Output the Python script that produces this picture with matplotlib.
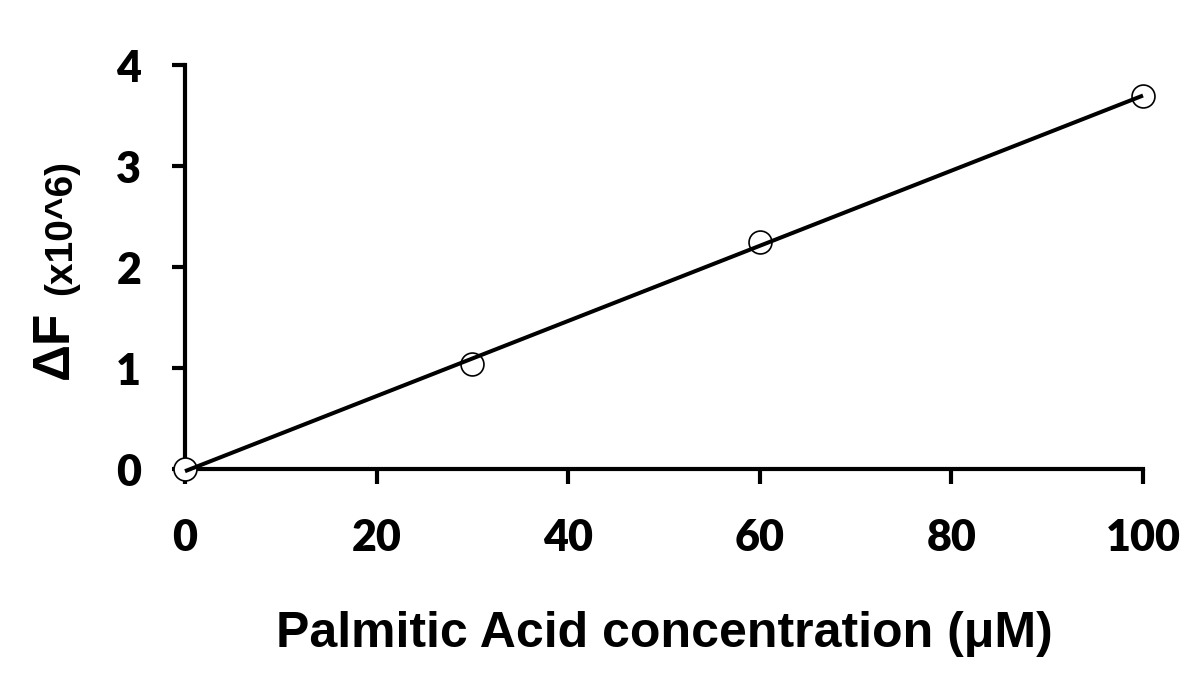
import numpy as np
import matplotlib
matplotlib.use("Agg")
import matplotlib.pyplot as plt

# data
conc = [0, 30, 60, 100]
delta_f = [0.0, 1.04, 2.25, 3.69]
x_ticks = [0, 20, 40, 60, 80, 100]
y_ticks = [0, 1, 2, 3, 4]
x_label = "Palmitic Acid concentration (μM)"
y_label_main = "ΔF"
y_label_unit = "(x10^6)"

W, H = 1203, 689
fig = plt.figure(figsize=(W / 100, H / 100), dpi=100)
ax = fig.add_axes([185 / W, 1 - 469 / H, (1143 - 185) / W, (469 - 65) / H])

# linear trendline
slope, intercept = np.polyfit(conc, delta_f, 1)
xf = np.array([min(conc), max(conc)])
ax.plot(xf, slope * xf + intercept, color="black", lw=2.9, zorder=4,
        solid_capstyle="butt", clip_on=False)
ax.plot(conc, delta_f, linestyle="none", marker="o", ms=16.5, mfc="white",
        mec="black", mew=1.2, zorder=3, clip_on=False)

ax.set_xlim(0, 100)
ax.set_ylim(0, 4)
ax.set_xticks(x_ticks)
ax.set_yticks(y_ticks)
for s in ["top", "right"]:
    ax.spines[s].set_visible(False)
for s in ["left", "bottom"]:
    ax.spines[s].set_linewidth(3)
    ax.spines[s].set_zorder(2)
ax.tick_params(axis="y", direction="out", length=9.5, width=3, pad=22)
ax.tick_params(axis="x", direction="out", length=11, width=3, pad=24)
for lab in ax.get_xticklabels() + ax.get_yticklabels():
    lab.set_fontfamily("Lato")
    lab.set_fontweight("heavy")
    lab.set_fontsize(31)

fig.text(664 / W, 1 - 647 / H, x_label, ha="center", va="baseline",
         fontsize=36, fontweight="bold", family="Liberation Sans")

t1 = fig.text(68 / W, 1 - 379 / H, y_label_main, rotation=90,
              rotation_mode="anchor", ha="left", va="baseline",
              fontsize=37, fontweight="bold", family="Liberation Sans")
fig.canvas.draw()
bb = t1.get_window_extent()
fig.text(71 / W, (bb.y1 + 16) / H, y_label_unit, rotation=90,
         rotation_mode="anchor", ha="left", va="baseline",
         fontsize=28, fontweight="bold", family="Liberation Sans")

fig.savefig("out.png", dpi=100)
